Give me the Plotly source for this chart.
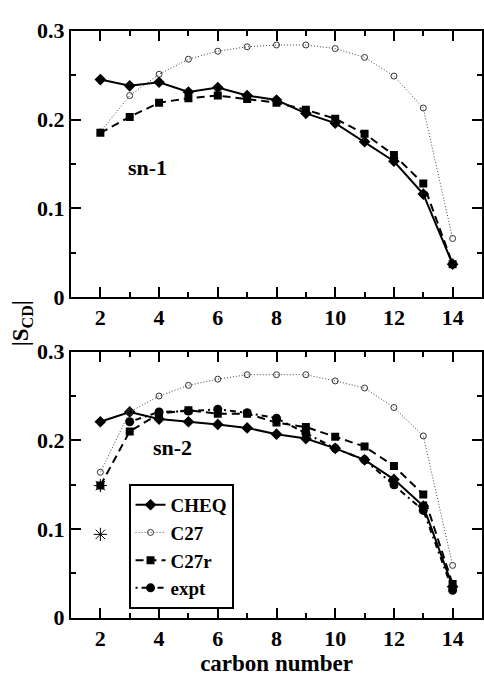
import plotly.graph_objects as go
from plotly.subplots import make_subplots

carbons = [2, 3, 4, 5, 6, 7, 8, 9, 10, 11, 12, 13, 14]

# sn-1 chain
sn1_cheq = [0.245, 0.238, 0.242, 0.231, 0.236, 0.227, 0.222, 0.207, 0.196, 0.175, 0.153, 0.116, 0.037]
sn1_c27 = [0.186, 0.227, 0.251, 0.268, 0.277, 0.282, 0.284, 0.284, 0.280, 0.270, 0.249, 0.213, 0.066]
sn1_c27r = [0.185, 0.203, 0.219, 0.224, 0.227, 0.223, 0.219, 0.211, 0.201, 0.184, 0.160, 0.128, 0.037]

# sn-2 chain
sn2_cheq = [0.221, 0.232, 0.224, 0.221, 0.218, 0.214, 0.207, 0.202, 0.191, 0.178, 0.156, 0.126, 0.035]
sn2_c27 = [0.164, 0.232, 0.250, 0.262, 0.269, 0.274, 0.274, 0.274, 0.267, 0.259, 0.237, 0.205, 0.059]
sn2_c27r = [0.149, 0.210, 0.230, 0.234, 0.230, 0.230, 0.220, 0.215, 0.204, 0.193, 0.171, 0.139, 0.038]
expt_carbons = [3, 4, 5, 6, 7, 8, 9, 10, 11, 12, 13, 14]
sn2_expt = [0.221, 0.232, 0.233, 0.235, 0.231, 0.225, 0.208, 0.191, 0.178, 0.150, 0.121, 0.031]
expt_c2_carbons = [2, 2]
expt_c2 = [0.149, 0.094]

x_ticks = [2, 4, 6, 8, 10, 12, 14]
y_ticks = [0, 0.1, 0.2, 0.3]
y_tick_text = ["0", "0.1", "0.2", "0.3"]

FONT = "Liberation Serif"

fig = make_subplots(rows=2, cols=1, vertical_spacing=0.08)

styles = {
    "CHEQ": dict(line=dict(color="black", width=2, dash="solid"),
                 marker=dict(symbol="diamond", size=9, color="black")),
    "C27": dict(line=dict(color="#444444", width=1, dash="1px,2px"),
                marker=dict(symbol="circle-open", size=6, color="#333333", line=dict(width=1))),
    "C27r": dict(line=dict(color="black", width=2, dash="8px,5px"),
                 marker=dict(symbol="square", size=8, color="black")),
    "expt": dict(line=dict(color="black", width=2, dash="2px,4px,6px,4px"),
                 marker=dict(symbol="circle", size=9, color="black")),
}

def add(name, x, y, row, legend):
    st = styles[name]
    fig.add_trace(go.Scatter(x=x, y=y, mode="lines+markers", name=name,
                             line=st["line"], marker=st["marker"],
                             showlegend=legend), row=row, col=1)

# top panel
add("C27", carbons, sn1_c27, 1, False)
add("C27r", carbons, sn1_c27r, 1, False)
add("CHEQ", carbons, sn1_cheq, 1, False)

# bottom panel (legend order)
add("CHEQ", carbons, sn2_cheq, 2, True)
add("C27", carbons, sn2_c27, 2, True)
add("C27r", carbons, sn2_c27r, 2, True)
add("expt", expt_carbons, sn2_expt, 2, True)
fig.add_trace(go.Scatter(x=expt_c2_carbons, y=expt_c2, mode="markers", showlegend=False,
                         marker=dict(symbol="asterisk-open", size=11, color="black",
                                     line=dict(color="black", width=1))), row=2, col=1)

axis_common = dict(showline=True, linecolor="black", linewidth=2, mirror="allticks",
                   ticks="inside", ticklen=10, tickwidth=2, tickcolor="black",
                   showgrid=False, zeroline=False,
                   tickfont=dict(family=FONT, size=22, color="black", weight="bold"))

for r in (1, 2):
    fig.update_xaxes(range=[1, 15], tickvals=x_ticks, ticktext=[str(v) for v in x_ticks],
                     minor=dict(ticks="inside", ticklen=5, tickwidth=2, tickcolor="black", dtick=1, tick0=1,
                                showgrid=False),
                     row=r, col=1, **axis_common)
    fig.update_yaxes(range=[0, 0.3], tickvals=y_ticks, ticktext=y_tick_text,
                     minor=dict(ticks="inside", ticklen=5, tickwidth=2, tickcolor="black", dtick=0.05, tick0=0,
                                showgrid=False),
                     row=r, col=1, **axis_common)

fig.update_yaxes(domain=[1 - 296 / 676, 1 - 19.5 / 676], row=1, col=1)
fig.update_yaxes(domain=[1 - 629 / 676, 1 - 352.7 / 676], row=2, col=1)

fig.update_xaxes(title=dict(text="carbon number", standoff=2,
                            font=dict(family=FONT, size=23, color="black", weight="bold")),
                 row=2, col=1)

fig.add_annotation(text="sn-1", x=3.6, y=0.146, xref="x", yref="y", showarrow=False,
                   font=dict(family=FONT, size=22, color="black", weight="bold"))
fig.add_annotation(text="sn-2", x=4.47, y=0.192, xref="x2", yref="y2", showarrow=False,
                   font=dict(family=FONT, size=22, color="black", weight="bold"))
fig.add_annotation(text="|S<sub>CD</sub>|", x=(22 - 71) / 413, y=1 - 323 / 676, xref="paper", yref="paper",
                   xanchor="center", yanchor="middle", textangle=-90, showarrow=False,
                   font=dict(family=FONT, size=23, color="black", weight="bold"))

fig.update_layout(
    width=484, height=676,
    margin=dict(l=71, r=1, t=0, b=0),
    paper_bgcolor="white", plot_bgcolor="white",
    font=dict(family=FONT, size=22, color="black", weight="bold"),
    legend=dict(x=0.14, y=1 - 490 / 676, xanchor="left", yanchor="top",
                bgcolor="white", bordercolor="black", borderwidth=2,
                font=dict(family=FONT, size=19, color="black", weight="bold"),
                itemwidth=30, tracegroupgap=0),
)

fig.write_html("out.html")
